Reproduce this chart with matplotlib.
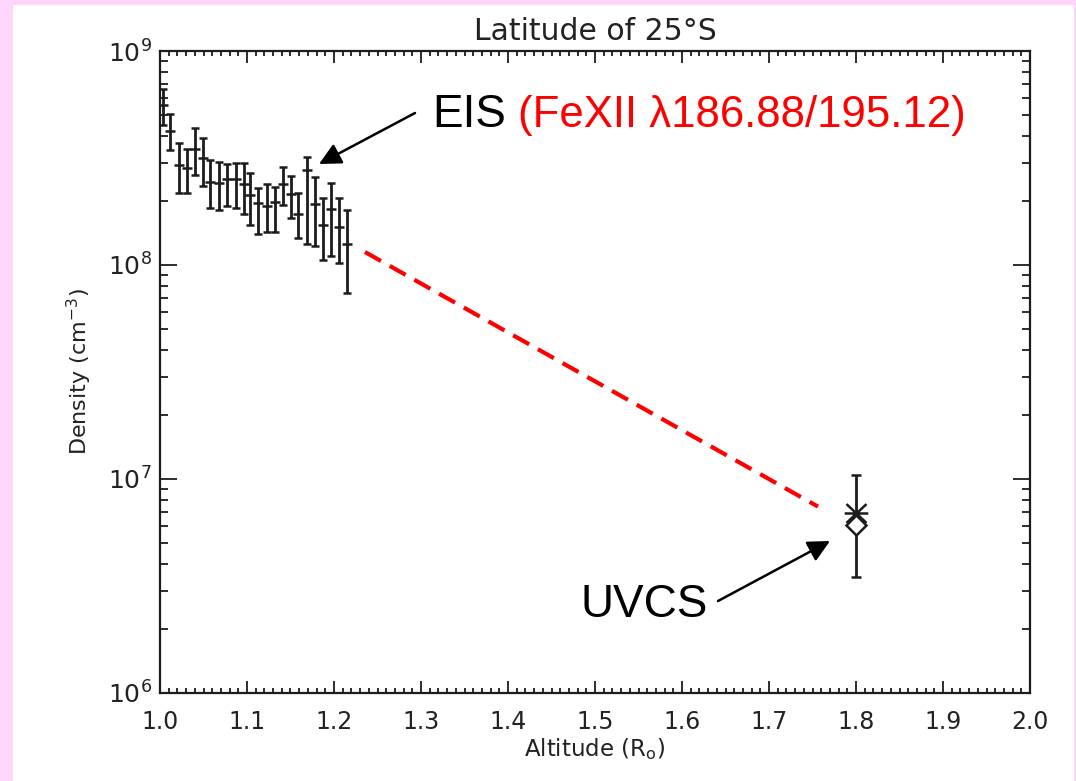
import matplotlib
matplotlib.use("Agg")
import matplotlib.pyplot as plt
from matplotlib.ticker import MultipleLocator, FormatStrFormatter, LogLocator, NullFormatter
from matplotlib.patches import Rectangle, FancyArrowPatch
from matplotlib.path import Path

# EIS electron density from the Fe XII 186.88/195.12 line ratio
eis_alt = [1.003, 1.012, 1.022, 1.031, 1.040, 1.049, 1.058, 1.068,
           1.077, 1.087, 1.096, 1.104, 1.113, 1.123, 1.132, 1.141,
           1.151, 1.159, 1.169, 1.178, 1.187, 1.196, 1.206, 1.215]
eis_dens = [5.58e8, 4.22e8, 2.93e8, 2.83e8, 3.50e8, 3.17e8, 2.45e8, 2.41e8,
            2.51e8, 2.51e8, 2.39e8, 2.12e8, 1.95e8, 1.89e8, 1.97e8, 2.38e8,
            2.14e8, 1.74e8, 2.78e8, 1.93e8, 1.54e8, 1.82e8, 1.51e8, 1.26e8]
eis_hi = [6.67e8, 5.07e8, 3.72e8, 3.50e8, 4.37e8, 3.94e8, 3.09e8, 3.03e8,
          2.95e8, 3.00e8, 3.00e8, 2.68e8, 2.30e8, 2.38e8, 2.32e8, 2.87e8,
          2.61e8, 2.18e8, 3.20e8, 2.57e8, 2.05e8, 2.42e8, 2.05e8, 1.81e8]
eis_lo = [4.50e8, 3.44e8, 2.16e8, 2.18e8, 2.63e8, 2.34e8, 1.85e8, 1.81e8,
          1.89e8, 1.84e8, 1.74e8, 1.54e8, 1.40e8, 1.42e8, 1.42e8, 1.91e8,
          1.65e8, 1.33e8, 1.26e8, 1.23e8, 1.05e8, 1.10e8, 1.02e8, 7.38e7]

# UVCS density estimates at 1.8 Ro
uvcs_alt = [1.80]
uvcs_dens = [6.94e6]
uvcs_err = [3.45e6]
uvcs_diamond_dens = [6.12e6]

# Extrapolation between the two data sets
link_alt = [1.2356, 1.7563]
link_dens = [1.15e8, 7.43e6]

x_ticks = [1.0, 1.1, 1.2, 1.3, 1.4, 1.5, 1.6, 1.7, 1.8, 1.9, 2.0]

W, H = 1076, 781


def px(x, y):
    """Pixel position (origin top-left) to figure fraction."""
    return x / W, 1 - y / H


fig = plt.figure(figsize=(W / 100, H / 100), dpi=100)
fig.patch.set_facecolor("#fdd5fd")
fig.patches.append(Rectangle(px(13, 781), (1074 - 13) / W, (781 - 5) / H,
                             transform=fig.transFigure, facecolor="white",
                             edgecolor="none", zorder=-5))

x0, y0 = px(160, 693)
ax = fig.add_axes([x0, y0, 870 / W, (693 - 51) / H])
ax.set_facecolor("white")

ink = "#1c1c1c"
err_lower = [d - lo for d, lo in zip(eis_dens, eis_lo)]
err_upper = [hi - d for d, hi in zip(eis_dens, eis_hi)]
ax.errorbar(eis_alt, eis_dens, yerr=[err_lower, err_upper], fmt="_",
            color=ink, ms=6.5, mew=1.8, elinewidth=2.0, capsize=3.0,
            capthick=1.8, zorder=3)

ax.plot(link_alt, link_dens, color="red", lw=3, dashes=(4.4, 2.4), zorder=2)

asterisk = Path([(-1, 0), (1, 0), (-0.85, -0.8), (0.85, 0.8),
                 (-0.85, 0.8), (0.85, -0.8)],
                [Path.MOVETO, Path.LINETO, Path.MOVETO, Path.LINETO,
                 Path.MOVETO, Path.LINETO])
ax.errorbar(uvcs_alt, uvcs_dens, yerr=uvcs_err, fmt="none", ecolor=ink,
            elinewidth=2.0, capsize=3.8, capthick=1.8, zorder=3)
ax.plot(uvcs_alt, uvcs_dens, linestyle="none", marker=asterisk, ms=17,
        mec=ink, mew=1.8, zorder=4)
ax.plot(uvcs_alt, uvcs_diamond_dens, linestyle="none", marker="D", ms=10.5,
        mfc="white", mec=ink, mew=1.8, zorder=4)

ax.set_yscale("log")
ax.set_xlim(1.0, 2.0)
ax.set_ylim(1e6, 1e9)
ax.set_xticks(x_ticks)
ax.xaxis.set_major_formatter(FormatStrFormatter("%.1f"))
ax.xaxis.set_minor_locator(MultipleLocator(0.01))
ax.yaxis.set_major_locator(LogLocator(base=10, numticks=10))
ax.yaxis.set_minor_locator(LogLocator(base=10, subs=range(2, 10), numticks=30))
ax.yaxis.set_minor_formatter(NullFormatter())

for side in ax.spines.values():
    side.set_linewidth(1.6)
    side.set_color(ink)

ax.tick_params(axis="both", which="both", direction="in", top=True,
               right=True, color=ink, width=1.3, labelcolor="#222222",
               labelsize=17)
ax.tick_params(axis="x", which="major", length=8.5, pad=12)
ax.tick_params(axis="x", which="minor", length=3.8)
ax.tick_params(axis="y", which="major", length=12, pad=6, labelsize=18)
ax.tick_params(axis="y", which="minor", length=6)

ax.set_title("Latitude of 25°S", fontsize=21.5, color="#222222", pad=8)
ax.set_xlabel(r"Altitude (R$_{\mathrm{o}}$)", fontsize=16.5, color="#222222",
              labelpad=2)
ax.set_ylabel(r"Density (cm$^{-3}$)", fontsize=16, color="#222222",
              labelpad=10)

big = dict(family="Liberation Sans", va="baseline", ha="left")
fig.text(*px(432, 127), "EIS", color="black", fontsize=33, **big)
fig.text(*px(518, 127), "(FeXII \u03bb186.88/195.12)", color="red",
         fontsize=31.5, **big)
fig.text(*px(581, 617), "UVCS", color="black", fontsize=33, **big)

head = dict(arrowstyle="-|>,head_length=0.6,head_width=0.3", color="black",
            lw=1.8, mutation_scale=22, shrinkA=0, shrinkB=0)
fig.add_artist(FancyArrowPatch(px(415, 113), px(319, 164),
                               transform=fig.transFigure, **head))
fig.add_artist(FancyArrowPatch(px(718, 601), px(830, 541),
                               transform=fig.transFigure, **head))

fig.savefig("out.png", dpi=100, facecolor=fig.get_facecolor())
